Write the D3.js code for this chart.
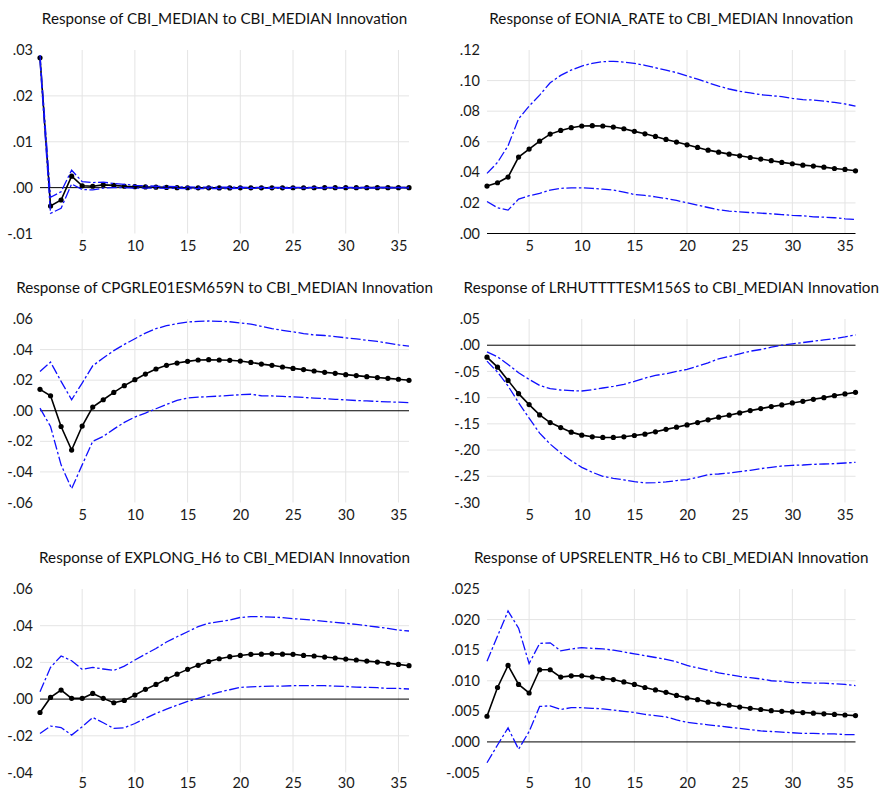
<!DOCTYPE html>
<html>
<head>
<meta charset="utf-8">
<script src="https://cdn.jsdelivr.net/npm/d3@7"></script>
<style>
  html, body { margin: 0; padding: 0; background: #fff; }
  svg { display: block; font-family: Lato, "Open Sans", sans-serif; }
</style>
</head>
<body>
<svg id="chart" width="882" height="792"></svg>
<script>
// Horizon (periods after the shock) and x-axis ticks shared by every panel
const periods = [1, 2, 3, 4, 5, 6, 7, 8, 9, 10, 11, 12, 13, 14, 15, 16, 17, 18,
                 19, 20, 21, 22, 23, 24, 25, 26, 27, 28, 29, 30, 31, 32, 33, 34, 35, 36];
const xTicks = [5, 10, 15, 20, 25, 30, 35];

// CBI_MEDIAN response with +/- 2 S.E. bands
const cbiResp  = [0.0283, -0.0040, -0.0027, 0.0025, 0.0004, 0.0003, 0.0006, 0.0005, 0.0003, 0.0002, 0.00015, 0.0001,
                  0.00005, 0.0, -0.00003, -0.00004, -0.00005, -0.00006, -0.00006, -0.00005, -0.00005, -0.00004, -0.00004, -0.00004,
                  -0.00003, -0.00003, -0.00003, -0.00002, -0.00002, -0.00002, -0.00002, -0.00001, -0.00001, -0.00001, -0.00001, -0.00001];
const cbiUpper = [0.0289, -0.0021, -0.0009, 0.0038, 0.0013, 0.0011, 0.0012, 0.0009, 0.0007, 0.0005, 0.0004, 0.0003,
                  0.00025, 0.0002, 0.00015, 0.00012, 0.0001, 0.0001, 0.00008, 0.00008, 0.00007, 0.00007, 0.00006, 0.00006,
                  0.00005, 0.00005, 0.00005, 0.00004, 0.00004, 0.00004, 0.00004, 0.00003, 0.00003, 0.00003, 0.00003, 0.00003];
const cbiLower = [0.0276, -0.0056, -0.0045, 0.0008, -0.0004, -0.0005, -0.0001, 0.0, 0.0, -0.0001, -0.0001, -0.00012,
                  -0.00015, -0.00018, -0.0002, -0.0002, -0.0002, -0.0002, -0.0002, -0.00018, -0.00017, -0.00016, -0.00015, -0.00014,
                  -0.00013, -0.00012, -0.00011, -0.0001, -0.0001, -0.00009, -0.00008, -0.00008, -0.00007, -0.00007, -0.00006, -0.00006];
const cbiTicks = [-0.01, 0, 0.01, 0.02, 0.03];

// EONIA_RATE
const eoniaResp  = [0.031, 0.0332, 0.0369, 0.050, 0.0552, 0.0604, 0.065, 0.0674, 0.0692, 0.0703, 0.0705, 0.0703,
                    0.0696, 0.0685, 0.0668, 0.0652, 0.0635, 0.0615, 0.0598, 0.058, 0.0563, 0.0545, 0.0532, 0.0519,
                    0.0508, 0.0497, 0.0487, 0.0476, 0.0465, 0.0456, 0.0447, 0.0441, 0.0434, 0.0425, 0.0419, 0.041];
const eoniaUpper = [0.0393, 0.0465, 0.0574, 0.075, 0.0833, 0.0905, 0.0986, 0.1034, 0.1069, 0.1095, 0.1113, 0.1124,
                    0.1126, 0.1121, 0.1113, 0.110, 0.1084, 0.1069, 0.1052, 0.103, 0.101, 0.0986, 0.0964, 0.0945,
                    0.093, 0.0919, 0.0908, 0.0901, 0.0895, 0.0884, 0.0875, 0.0873, 0.0866, 0.0857, 0.0847, 0.0833];
const eoniaLower = [0.0209, 0.0168, 0.0153, 0.0225, 0.0247, 0.0262, 0.0284, 0.0295, 0.0299, 0.0299, 0.0295, 0.029,
                    0.0284, 0.0271, 0.0255, 0.0249, 0.024, 0.0229, 0.0216, 0.0201, 0.0185, 0.017, 0.0155, 0.0146,
                    0.0142, 0.0137, 0.0133, 0.0129, 0.0124, 0.0118, 0.0116, 0.0109, 0.0107, 0.0103, 0.0096, 0.0092];
const eoniaTicks = [0, 0.02, 0.04, 0.06, 0.08, 0.10, 0.12];

// CPGRLE01ESM659N
const cpiResp  = [0.014, 0.0098, -0.0103, -0.0257, -0.010, 0.0024, 0.0072, 0.012, 0.0164, 0.0203, 0.024, 0.0273,
                  0.0297, 0.0312, 0.0323, 0.0332, 0.0334, 0.0332, 0.033, 0.0325, 0.0316, 0.0305, 0.0297, 0.0286,
                  0.0277, 0.0269, 0.026, 0.0251, 0.0245, 0.0236, 0.023, 0.0223, 0.0217, 0.0212, 0.0206, 0.0199];
const cpiUpper = [0.0257, 0.0318, 0.0192, 0.0072, 0.0181, 0.0294, 0.0345, 0.0393, 0.0434, 0.0471, 0.0508, 0.0537,
                  0.0556, 0.0569, 0.058, 0.0585, 0.0587, 0.0585, 0.0582, 0.0574, 0.0567, 0.0552, 0.0537, 0.0526,
                  0.0516, 0.0505, 0.0496, 0.0492, 0.0485, 0.0477, 0.047, 0.0461, 0.0453, 0.0442, 0.0431, 0.0422];
const cpiLower = [0.0017, -0.0103, -0.0354, -0.051, -0.0354, -0.020, -0.0168, -0.012, -0.0076, -0.0041, -0.0015, 0.0013,
                  0.0041, 0.0068, 0.0083, 0.0089, 0.0092, 0.0096, 0.010, 0.0105, 0.0108, 0.0098, 0.0097, 0.0094,
                  0.0091, 0.0087, 0.0083, 0.0079, 0.0075, 0.0071, 0.0067, 0.0064, 0.0061, 0.0058, 0.0056, 0.0053];
const cpiTicks = [-0.06, -0.04, -0.02, 0, 0.02, 0.04, 0.06];

// LRHUTTTTESM156S
const unempResp  = [-0.0228, -0.0418, -0.0671, -0.0924, -0.1133, -0.1329, -0.1475, -0.157, -0.1658, -0.1715, -0.1747, -0.1759,
                    -0.1759, -0.1747, -0.1722, -0.1696, -0.1652, -0.1605, -0.1563, -0.152, -0.1475, -0.1424, -0.1373, -0.1335,
                    -0.1291, -0.1247, -0.1209, -0.1171, -0.1139, -0.1101, -0.107, -0.1032, -0.1, -0.0962, -0.093, -0.0899];
const unempUpper = [-0.0127, -0.0222, -0.0367, -0.0525, -0.0652, -0.0766, -0.0829, -0.0854, -0.0867, -0.0873, -0.0848, -0.0816,
                    -0.0785, -0.0747, -0.069, -0.0627, -0.0576, -0.0544, -0.050, -0.0462, -0.0399, -0.0335, -0.0259, -0.0215,
                    -0.0165, -0.0114, -0.0082, -0.0038, 0.0, 0.0025, 0.0051, 0.0076, 0.0101, 0.0127, 0.0158, 0.0196];
const unempLower = [-0.0304, -0.0513, -0.0778, -0.1095, -0.1392, -0.1677, -0.1886, -0.2057, -0.2203, -0.2329, -0.2424, -0.250,
                    -0.2538, -0.257, -0.2601, -0.2627, -0.262, -0.2608, -0.2582, -0.2563, -0.2519, -0.2468, -0.2456, -0.2437,
                    -0.2411, -0.2386, -0.2354, -0.2329, -0.2304, -0.2291, -0.2285, -0.2272, -0.2266, -0.2259, -0.2247, -0.2234];
const unempTicks = [-0.30, -0.25, -0.20, -0.15, -0.10, -0.05, 0, 0.05];

// EXPLONG_H6
const expResp  = [-0.0073, 0.0009, 0.0049, 0.0004, 0.0004, 0.0031, 0.0004, -0.002, -0.0007, 0.0022, 0.0053, 0.008,
                  0.0109, 0.0136, 0.0162, 0.0184, 0.0205, 0.022, 0.0231, 0.0238, 0.0244, 0.0245, 0.0247, 0.0245,
                  0.0244, 0.0238, 0.0235, 0.0229, 0.0224, 0.0218, 0.0213, 0.0207, 0.0202, 0.0195, 0.0189, 0.0182];
const expUpper = [0.004, 0.0173, 0.0235, 0.0209, 0.0162, 0.0173, 0.0164, 0.0156, 0.018, 0.0213, 0.0245, 0.0276,
                  0.0311, 0.034, 0.0367, 0.0395, 0.0413, 0.0422, 0.0431, 0.0445, 0.0449, 0.0449, 0.0447, 0.0444,
                  0.0438, 0.0435, 0.0429, 0.0424, 0.0418, 0.0413, 0.0407, 0.040, 0.0393, 0.0385, 0.0376, 0.0371];
const expLower = [-0.0187, -0.0147, -0.0155, -0.0196, -0.0151, -0.010, -0.0129, -0.016, -0.0156, -0.0133, -0.0105, -0.0078,
                  -0.0055, -0.0033, -0.0013, 0.0004, 0.0022, 0.0038, 0.0051, 0.0064, 0.0067, 0.0069, 0.0071, 0.0071,
                  0.0073, 0.0073, 0.0073, 0.0073, 0.0071, 0.0069, 0.0065, 0.0064, 0.0062, 0.0058, 0.0058, 0.0055];
const expTicks = [-0.04, -0.02, 0, 0.02, 0.04, 0.06];

// UPSRELENTR_H6
const upsResp  = [0.0042, 0.0089, 0.0125, 0.0094, 0.008, 0.0118, 0.0118, 0.0106, 0.0108, 0.0108, 0.0106, 0.0104,
                  0.0102, 0.0098, 0.0094, 0.0089, 0.0085, 0.0081, 0.0076, 0.0072, 0.0069, 0.0065, 0.0062, 0.006,
                  0.0057, 0.0055, 0.0053, 0.0051, 0.005, 0.0049, 0.0048, 0.0047, 0.0046, 0.0045, 0.0044, 0.0043];
const upsUpper = [0.0132, 0.0173, 0.0214, 0.0186, 0.0128, 0.0161, 0.0162, 0.0149, 0.0152, 0.0154, 0.0153, 0.0152,
                  0.015, 0.0147, 0.0144, 0.0141, 0.0138, 0.0135, 0.0131, 0.0125, 0.0121, 0.0117, 0.0113, 0.011,
                  0.0107, 0.0105, 0.0103, 0.010, 0.0099, 0.0097, 0.0097, 0.0096, 0.0096, 0.0095, 0.0094, 0.0092];
const upsLower = [-0.0034, -0.0005, 0.0023, -0.0012, 0.0017, 0.0058, 0.0059, 0.0053, 0.0056, 0.0056, 0.0055, 0.0054,
                  0.0052, 0.005, 0.0048, 0.0045, 0.0043, 0.0041, 0.0036, 0.0032, 0.003, 0.0028, 0.0026, 0.0024,
                  0.0022, 0.002, 0.0018, 0.0017, 0.0016, 0.0015, 0.0014, 0.0014, 0.0013, 0.0013, 0.0012, 0.0012];
const upsTicks = [-0.005, 0, 0.005, 0.010, 0.015, 0.020, 0.025];

const panels = [
  { title: "Response of CBI_MEDIAN to CBI_MEDIAN Innovation",      resp: cbiResp,   upper: cbiUpper,   lower: cbiLower,   ticks: cbiTicks,   digits: 2 },
  { title: "Response of EONIA_RATE to CBI_MEDIAN Innovation",      resp: eoniaResp, upper: eoniaUpper, lower: eoniaLower, ticks: eoniaTicks, digits: 2 },
  { title: "Response of CPGRLE01ESM659N to CBI_MEDIAN Innovation", resp: cpiResp,   upper: cpiUpper,   lower: cpiLower,   ticks: cpiTicks,   digits: 2 },
  { title: "Response of LRHUTTTTESM156S to CBI_MEDIAN Innovation", resp: unempResp, upper: unempUpper, lower: unempLower, ticks: unempTicks, digits: 2 },
  { title: "Response of EXPLONG_H6 to CBI_MEDIAN Innovation",      resp: expResp,   upper: expUpper,   lower: expLower,   ticks: expTicks,   digits: 2 },
  { title: "Response of UPSRELENTR_H6 to CBI_MEDIAN Innovation",   resp: upsResp,   upper: upsUpper,   lower: upsLower,   ticks: upsTicks,   digits: 3 }
];

// Grid layout: two columns, three rows of plot areas
const colX = [[40, 409], [487, 855.5]];
const rowTop = [50, 319, 589];
const plotH = 183.5;

const BLUE = "#1010ff";
const GRID = "#e4e4e4";

// EViews-style labels: no leading zero, ASCII hyphen for negatives
function fmtTick(v, digits) {
  const s = Math.abs(v).toFixed(digits).replace(/^0/, "");
  return (v < -1e-12 ? "-" : "") + s;
}

const svg = d3.select("#chart");

panels.forEach((p, i) => {
  const [x0, x1] = colX[i % 2];
  const row = Math.floor(i / 2);
  const top = rowTop[row];
  const bottom = top + plotH;

  const x = d3.scaleLinear().domain([1, 36]).range([x0, x1]);
  const y = d3.scaleLinear().domain([p.ticks[0], p.ticks[p.ticks.length - 1]]).range([bottom, top]);

  const g = svg.append("g");

  // light gridlines
  g.append("g").selectAll("line").data(xTicks).join("line")
    .attr("x1", d => x(d)).attr("x2", d => x(d))
    .attr("y1", top).attr("y2", bottom)
    .attr("stroke", GRID).attr("stroke-width", 1);
  g.append("g").selectAll("line")
    .data(p.ticks.filter((d, k) => d !== 0 && k > 0 && k < p.ticks.length - 1)).join("line")
    .attr("x1", x0).attr("x2", x1)
    .attr("y1", d => y(d)).attr("y2", d => y(d))
    .attr("stroke", GRID).attr("stroke-width", 1);

  // zero line
  g.append("line")
    .attr("x1", x0).attr("x2", x1)
    .attr("y1", y(0)).attr("y2", y(0))
    .attr("stroke", "#000").attr("stroke-width", 1);

  // axes (labels only)
  const yAxis = d3.axisLeft(y).tickValues(p.ticks).tickSize(0).tickPadding(7)
    .tickFormat(d => fmtTick(d, p.digits));
  const ya = g.append("g").attr("transform", `translate(${x0},0)`).call(yAxis);
  ya.select(".domain").remove();
  ya.selectAll("text").attr("font-size", 14.5).attr("fill", "#1a1a1a").style("font-family", "Lato, 'Open Sans', sans-serif");

  const xAxis = d3.axisBottom(x).tickValues(xTicks).tickSize(0).tickPadding(row === 2 ? 5.5 : 7.5);
  const xa = g.append("g").attr("transform", `translate(0,${bottom})`).call(xAxis);
  xa.select(".domain").remove();
  xa.selectAll("text").attr("font-size", 14.5).attr("fill", "#1a1a1a").style("font-family", "Lato, 'Open Sans', sans-serif");

  // response line with markers
  const line = d3.line().x((d, k) => x(periods[k])).y(d => y(d));
  g.append("path").datum(p.resp)
    .attr("d", line).attr("fill", "none")
    .attr("stroke", "#000").attr("stroke-width", 1.6);
  g.append("g").selectAll("circle").data(p.resp).join("circle")
    .attr("cx", (d, k) => x(periods[k])).attr("cy", d => y(d))
    .attr("r", 2.6).attr("fill", "#000");

  // +/- 2 S.E. bands
  [p.upper, p.lower].forEach(band => {
    g.append("path").datum(band)
      .attr("d", line).attr("fill", "none")
      .attr("stroke", BLUE).attr("stroke-width", 1.3)
      .attr("stroke-dasharray", "10,2.5,2.5,2.5");
  });

  // panel title
  g.append("text")
    .attr("x", (x0 + x1) / 2).attr("y", top - 26)
    .attr("text-anchor", "middle")
    .attr("font-size", 15.2).attr("fill", "#111")
    .text(p.title);
});
</script>
</body>
</html>
